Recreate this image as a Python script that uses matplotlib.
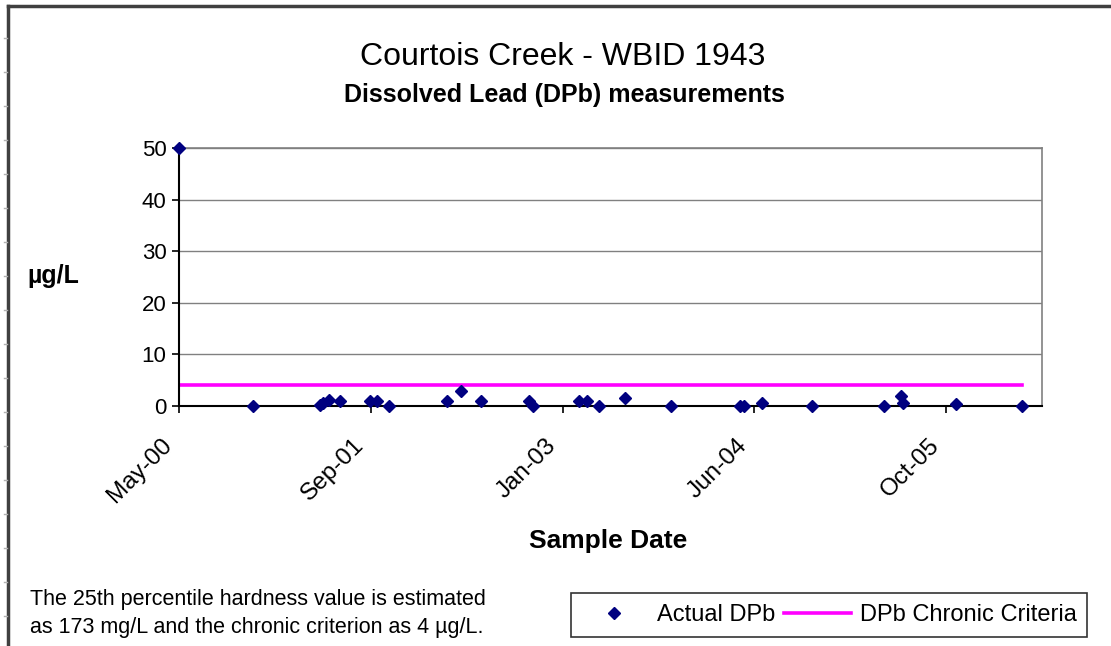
import matplotlib
matplotlib.use("Agg")
import matplotlib.pyplot as plt
from matplotlib.lines import Line2D
from matplotlib.transforms import ScaledTranslation
import datetime as dt

plt.rcParams['font.family'] = ['Liberation Sans', 'DejaVu Sans']

# ---- data ----
sample_dates = ["2000-05-24", "2000-11-29", "2001-05-19", "2001-05-27", "2001-06-11",
                "2001-07-09", "2001-09-24", "2001-10-12", "2001-11-12", "2002-04-09",
                "2002-05-15", "2002-07-05", "2002-11-04", "2002-11-15", "2003-03-12",
                "2003-04-02", "2003-05-02", "2003-07-08", "2003-11-02", "2004-04-27",
                "2004-05-07", "2004-06-22", "2004-10-28", "2005-04-30", "2005-06-12",
                "2005-06-17", "2005-10-31", "2006-04-17"]
dpb_values = [50, 0, 0.2, 0.5, 1.2,
              1.0, 1.0, 1.0, 0, 1.0,
              3.0, 1.0, 1.0, 0, 1.0,
              1.0, 0, 1.5, 0, 0,
              0, 0.5, 0, 0, 2.0,
              0.5, 0.4, 0]
criteria_value = 4
tick_labels = ["May-00", "Sep-01", "Jan-03", "Jun-04", "Oct-05"]
y_ticks = [0, 10, 20, 30, 40, 50]

dates = [dt.datetime.strptime(s, "%Y-%m-%d") for s in sample_dates]
criteria = [criteria_value] * len(dates)

fig = plt.figure(figsize=(11.11, 6.46), dpi=100)
ax = fig.add_axes([179/1111, 1-406/646, (1042-179)/1111, (406-148)/646])

ax.plot(dates, criteria, color='#FF00FF', lw=2.6, label='DPb Chronic Criteria', zorder=2)
ax.plot(dates, dpb_values, ls='none', marker='D', ms=6.5, color='#000080',
        label='Actual DPb', zorder=3, clip_on=False)

start = dates[0]
ticks = [start + dt.timedelta(days=490*k) for k in range(5)]
ax.set_xlim(start, start + dt.timedelta(days=2205))
ax.set_xticks(ticks)
ax.set_xticklabels(tick_labels, rotation=45, ha='right', va='center',
                   rotation_mode='anchor', fontsize=17.5)
ax.set_ylim(0, 50)
ax.set_yticks(y_ticks)
ax.tick_params(axis='y', labelsize=16, direction='out', length=5, width=1.2, pad=4)
ax.tick_params(axis='x', direction='out', length=5, width=1.2, pad=21)
off = ScaledTranslation(-10/100, 0, fig.dpi_scale_trans)
for lab in ax.get_xticklabels():
    lab.set_transform(lab.get_transform() + off)
ax.grid(axis='y', color='#808080', lw=1)
ax.set_axisbelow(True)
for s in ['top', 'right']:
    ax.spines[s].set_color('#808080')
    ax.spines[s].set_linewidth(1.2)
for s in ['left', 'bottom']:
    ax.spines[s].set_color('black')
    ax.spines[s].set_linewidth(1.5)

fig.text(563/1111, 1-57/646, "Courtois Creek - WBID 1943", ha='center', va='center', fontsize=23)
fig.text(564/1111, 1-95/646, "Dissolved Lead (DPb) measurements", ha='center', va='center',
         fontsize=18, fontweight='bold')
fig.text(53/1111, 1-276/646, "µg/L", ha='center', va='center', fontsize=18, fontweight='bold')
fig.text(608/1111, 1-541/646, "Sample Date", ha='center', va='center', fontsize=19, fontweight='bold')
fig.text(30/1111, 1-600/646, "The 25th percentile hardness value is estimated", ha='left', va='center', fontsize=15.5)
fig.text(30/1111, 1-628/646, "as 173 mg/L and the chronic criterion as 4 µg/L.", ha='left', va='center', fontsize=15.5)

handles, labels = ax.get_legend_handles_labels()
leg = fig.legend([handles[1], handles[0]], [labels[1], labels[0]], ncol=2, loc='center',
                 bbox_to_anchor=(829/1111, 1-615/646), fontsize=17, frameon=True, fancybox=False,
                 edgecolor='black', handlelength=2.8, columnspacing=0.4, handletextpad=0.4,
                 borderpad=0.45)
leg.get_frame().set_linewidth(1.2)

# outer frame
fig.add_artist(Line2D([8/1111, 1], [1-6/646, 1-6/646], color='#404040', lw=2.5, transform=fig.transFigure))
fig.add_artist(Line2D([8/1111, 8/1111], [0, 1-6/646], color='#404040', lw=2.5, transform=fig.transFigure))
for yy in range(38, 646, 34):
    fig.add_artist(Line2D([4/1111, 7/1111], [1-yy/646, 1-yy/646], color='#b0b0b0', lw=1,
                          transform=fig.transFigure))

fig.savefig("out.png", dpi=100)
